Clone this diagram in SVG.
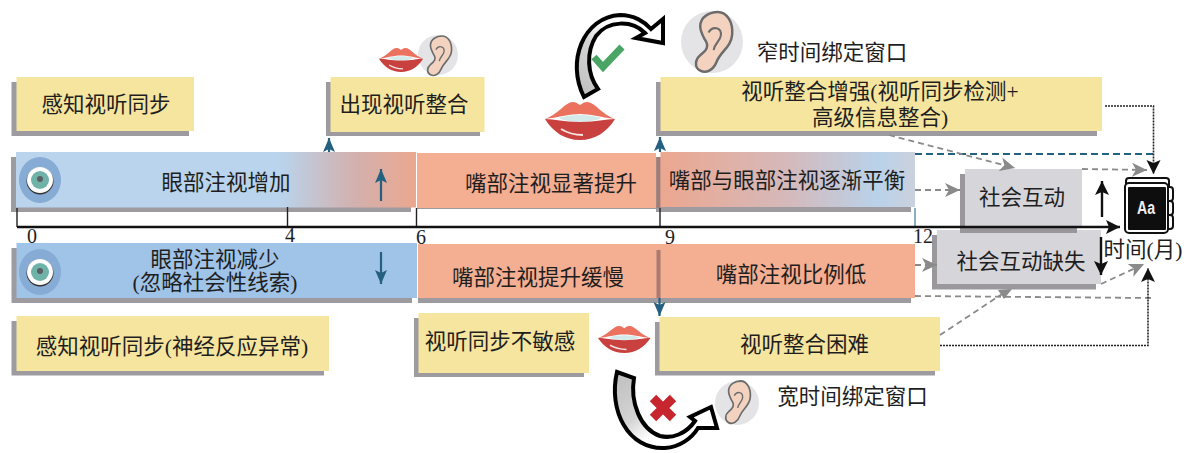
<svg xmlns="http://www.w3.org/2000/svg" width="1188" height="453" viewBox="0 0 1188 453">
<style>
text{font-family:"Liberation Serif","Noto Sans CJK SC",serif;font-size:21.5px;fill:#1e1e1e;text-anchor:middle;dominant-baseline:central}
.sh{fill:#9d9aa0}
.y{fill:#f6e59f}
.s{fill:#f4ae92}
.g{fill:#d6d5da}
.num{font-size:20px}
.dg{fill:none;stroke:#8a8a8a;stroke-width:1.8;stroke-dasharray:6 4}
.dk{fill:none;stroke:#222;stroke-width:1.6;stroke-dasharray:2 1}
.bk{fill:none;stroke:#111;stroke-width:2.4}
.bl{fill:none;stroke:#24607f;stroke-width:2.2}
</style>
<defs>
<linearGradient id="gEye"><stop offset="0" stop-color="#b9d4ec"/><stop offset=".66" stop-color="#b9d4ec"/><stop offset=".85" stop-color="#d3b0ad"/><stop offset="1" stop-color="#eba78f"/></linearGradient>
<linearGradient id="gBal"><stop offset="0" stop-color="#eca78f"/><stop offset=".5" stop-color="#d5b9bb"/><stop offset=".85" stop-color="#b9d2ea"/><stop offset="1" stop-color="#cbd1dd"/></linearGradient>
<linearGradient id="gA1" x1="0" y1="1" x2="1" y2="0"><stop offset="0" stop-color="#bdbdbd"/><stop offset=".4" stop-color="#d5d5d5"/><stop offset=".6" stop-color="#fff"/></linearGradient>
<linearGradient id="gA2" x1="0" y1="0" x2="1" y2="1"><stop offset="0" stop-color="#bdbdbd"/><stop offset=".4" stop-color="#d5d5d5"/><stop offset=".6" stop-color="#fff"/></linearGradient>
<marker id="mG" markerUnits="userSpaceOnUse" markerWidth="20" markerHeight="16" refX="15" refY="7" orient="auto"><path d="M0 0L15 7L0 14L4 7Z" fill="#8a8a8a"/></marker>
<marker id="mK" markerUnits="userSpaceOnUse" markerWidth="20" markerHeight="18" refX="14" refY="7" orient="auto"><path d="M0 0L14 7L0 14L3 7Z" fill="#111"/></marker>
<marker id="mB" markerUnits="userSpaceOnUse" markerWidth="20" markerHeight="18" refX="14" refY="6" orient="auto"><path d="M0 0L14 6L0 12L3 6Z" fill="#24607f"/></marker>
<g id="lips">
<path d="M0 17C14 12 20 0 28 0C32 0 34 3 35 3C36 3 38 0 42 0C50 0 56 12 70 17C55 15 45 12 35 12C25 12 15 15 0 17Z" fill="#ec7260"/>
<path d="M14 16C24 12 46 12 56 16C48 21 22 21 14 16Z" fill="#d3e9ea"/>
<path d="M0 17C10 17 18 20 35 20C52 20 60 17 70 17C62 30 50 38 35 38C20 38 8 30 0 17Z" fill="#c8413f"/>
<path d="M16 27C24 32 32 33 38 33" fill="none" stroke="#f6e5e2" stroke-width="2"/>
</g>
<g id="ear">
<path d="M8 14C8 4 18 0 25 0C34 0 40 10 39 22C38 34 28 38 24 48C21 56 14 60 8 57C2 54 3 46 8 42C13 38 18 34 12 26C10 22 8 18 8 14Z" fill="#f3d3c0" stroke="#6c6c6c" stroke-width="2.4"/>
<path d="M16 20C20 13 29 15 28 23C27 29 22 30 21 37" fill="none" stroke="#6c6c6c" stroke-width="2"/>
</g>
<g id="eye">
<ellipse rx="21" ry="23" fill="#86abd4"/>
<circle cy="1" r="13.5" fill="#333"/>
<circle r="13" fill="#fff"/>
<circle r="9" fill="#6fb3a8"/>
<circle cy="-1" r="3" fill="#5a5f63"/>
</g>
</defs>

<g id="n-percept"><rect class="sh" x="11.500" y="82" width="177.500" height="54"/><rect class="y" x="16.500" y="77" width="177.500" height="54"/><text x="106" y="105">感知视听同步</text></g>
<g id="n-emerge"><rect class="sh" x="326" y="82" width="154" height="54"/><rect class="y" x="330.500" y="77" width="154" height="55"/><text x="404" y="105">出现视听整合</text></g>
<g id="icon-av-top"><circle cx="438" cy="55" r="20" fill="#e4e3e6"/><use href="#ear" transform="translate(425 36) scale(.68)"/><use href="#lips" transform="translate(379 48) scale(.63)"/></g>
<g id="n-enhance"><rect class="sh" x="656" y="82" width="441" height="54"/><rect class="y" x="660.500" y="77" width="441.500" height="54"/><text x="880" y="92">视听整合增强(视听同步检测+</text><text x="880" y="118">高级信息整合)</text></g>
<g id="icon-narrow"><circle cx="712" cy="42" r="31" fill="#e4e3e6"/><use href="#ear" transform="translate(692 12) scale(1.03)"/><text x="832" y="53">窄时间绑定窗口</text></g>
<g id="icon-lips-large"><use href="#lips" transform="translate(545 102)"/></g>
<g id="icon-arrow-ok">
<path d="M584 97C566 62 583 17 620 15C634 15 645 22 651 29L663 19V43L636 38L645 33C632 20 608 20 596 36C586 52 587 74 598 89Z" fill="url(#gA1)" stroke="#000" stroke-width="4" stroke-linejoin="miter"/>
<path d="M594 57L603 67L622 47" fill="none" stroke="#4aa564" stroke-width="7"/>
</g>

<g id="n-eye-up"><rect class="sh" x="11" y="157" width="400" height="55"/><rect fill="url(#gEye)" x="16" y="152" width="400" height="55.500"/><use href="#eye" transform="translate(40 180)"/><text x="226" y="183">眼部注视增加</text></g>
<g id="n-mouth-up"><rect class="sh" x="417" y="203" width="239" height="6"/><rect class="s" x="417" y="153" width="239" height="55"/><text x="551" y="184">嘴部注视显著提升</text></g>
<g id="n-balance"><rect class="sh" x="656" y="157" width="255" height="55"/><rect x="656.500" y="157" width="4" height="51" fill="#a87a70"/><rect fill="url(#gBal)" x="660.500" y="152" width="254.500" height="55"/><text x="787" y="181">嘴部与眼部注视逐渐平衡</text></g>

<g id="n-lack"><rect x="932" y="235" width="164" height="54.500" fill="#9a989d"/><rect class="g" x="937" y="230" width="164" height="54"/><text x="1021" y="262">社会互动缺失</text></g>
<g id="n-social"><rect x="960" y="174" width="117" height="59" fill="#99979c"/><rect class="g" x="965" y="169" width="117" height="58"/><text x="1022" y="198">社会互动</text></g>

<g id="n-eye-down"><rect class="sh" x="11.500" y="248" width="400.500" height="55"/><rect x="16.500" y="243" width="400.500" height="55" fill="#a0c3e8"/><use href="#eye" transform="translate(40 272)"/><text x="215" y="260">眼部注视减少</text><text x="215" y="283">(忽略社会性线索)</text></g>
<g id="n-mouth-down"><rect class="sh" x="418" y="298" width="493" height="5"/><rect class="s" x="418" y="244" width="497" height="54"/><rect x="656.500" y="250" width="4" height="48" fill="#a87a70"/><text x="538" y="278">嘴部注视提升缓慢</text><text x="791" y="275">嘴部注视比例低</text></g>
<g id="n-percept-abn"><rect class="sh" x="11.500" y="321" width="312.500" height="54.500"/><rect class="y" x="16.500" y="316" width="312.500" height="55"/><text x="172" y="347">感知视听同步(神经反应异常)</text></g>
<g id="n-insens"><rect class="sh" x="414" y="318" width="170" height="59"/><rect class="y" x="418.500" y="313" width="170.500" height="60"/><text x="500" y="342">视听同步不敏感</text></g>
<g id="n-diff"><rect class="sh" x="655" y="322" width="280" height="53.500"/><rect class="y" x="659.500" y="317" width="280.500" height="54"/><text x="804.500" y="345">视听整合困难</text></g>
<g id="icon-lips-small"><use href="#lips" transform="translate(598 326) scale(.75 .71)"/></g>
<g id="icon-wide"><circle cx="737" cy="403" r="22" fill="#e4e3e6"/><use href="#ear" transform="translate(723 381) scale(.7 .73)"/><text x="852.500" y="397">宽时间绑定窗口</text></g>
<g id="icon-arrow-no">
<path d="M617 372C608 410 628 450 665 448C680 447 692 438 698 428L717 428L711 407L690 417L695 421C686 434 672 439 660 436C640 429 630 402 634 378Z" fill="url(#gA2)" stroke="#000" stroke-width="4"/>
<path d="M653 398L673 418M673 398L653 418" stroke="#c8262e" stroke-width="9" fill="none"/>
</g>

<g id="notebook">
<path d="M1126 186V181Q1126 178 1129 178H1166Q1169 178 1169 181V186" fill="#fff" stroke="#111" stroke-width="2"/>
<path d="M1167 187h3q3 0 3 3v8q0 3-3 3h-3zM1167 201h3q3 0 3 3v8q0 3-3 3h-3zM1167 215h3q3 0 3 3v8q0 3-3 3h-3z" fill="#fff" stroke="#111" stroke-width="2"/>
<rect x="1125" y="183" width="43" height="50" rx="4" fill="#fff" stroke="#111" stroke-width="2"/>
<rect x="1128" y="187" width="38" height="43" rx="1" fill="#0e0e0e"/>
<text x="1146" y="208" textLength="18" lengthAdjust="spacingAndGlyphs" style="font-family:'Liberation Sans',sans-serif;font-size:18px;font-weight:bold;fill:#eee">Aa</text>
</g>

<g id="connectors">
<path class="bl" d="M381 201V169" marker-end="url(#mB)"/>
<path class="bl" d="M381 252V284" marker-end="url(#mB)"/>
<path class="bl" d="M329 152V138" marker-end="url(#mB)"/>
<path class="bl" d="M660 152V137" marker-end="url(#mB)"/>
<path class="bl" d="M659.500 298V316" marker-end="url(#mB)"/>
<path class="bl" style="stroke-dasharray:7 4" d="M915 154H1153"/>
<path class="dg" d="M889 135L1015 168" marker-end="url(#mG)"/>
<path class="dg" d="M1082 169L1147 170" marker-end="url(#mG)"/>
<path class="dg" d="M915 190H960" marker-end="url(#mG)"/>
<path class="dg" d="M915 265H937" marker-end="url(#mG)"/>
<path class="dg" d="M1101 284L1144 264" marker-end="url(#mG)"/>
<path class="dg" d="M915 296L1151 298"/>
<path class="dg" d="M940 335L1002 294"/>
<path d="M998 290L1012 289L1004 299Z" fill="#8a8a8a"/>
<path class="dk" d="M1105 106H1153.500V174" marker-end="url(#mK)"/>
<path class="dk" d="M940 345.500H1148V268" marker-end="url(#mK)"/>
<path class="bk" d="M1102 217V181" marker-end="url(#mK)"/>
<path class="bk" d="M1101 237V275" marker-end="url(#mK)"/>
<path d="M17 208V227M287.500 207V227M416.500 208V227M660 208V227" fill="none" stroke="#222" stroke-width="1.400"/>
<path d="M915 208V227" fill="none" stroke="#5f8aa3" stroke-width="1.400"/>
<path class="bk" d="M17 227H1120" stroke-width="2" marker-end="url(#mK)"/>
</g>

<g id="axis-labels">
<text class="num" x="32" y="236">0</text>
<text class="num" x="290" y="235">4</text>
<text class="num" x="421" y="237">6</text>
<text class="num" x="670" y="237">9</text>
<text class="num" x="923" y="236">12</text>
<text x="1143" y="250">时间(月)</text>
</g>
</svg>
